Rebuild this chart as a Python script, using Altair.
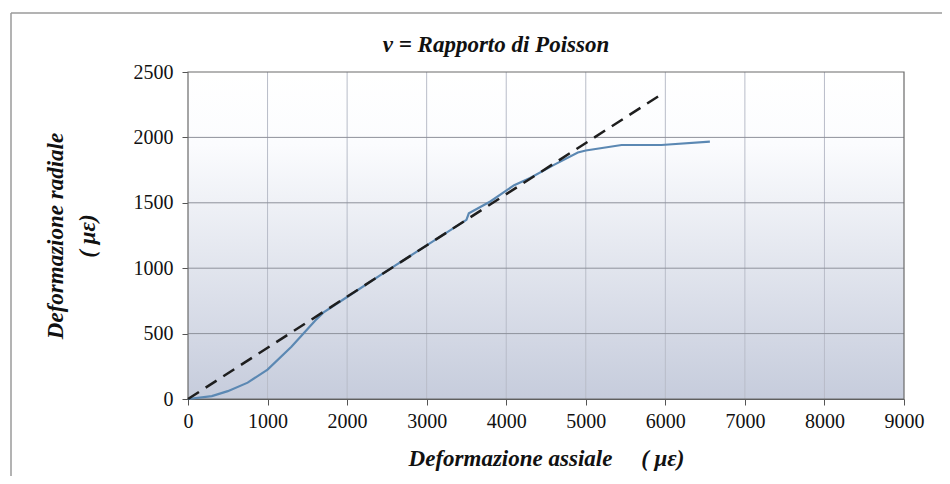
import altair as alt
import pandas as pd

# Measured curve (axial strain vs radial strain, microstrain)
exp_x = [0, 300, 500, 750, 1000, 1300, 1600, 1700, 2000, 2500, 3000, 3500, 3530,
         3800, 4100, 4300, 4600, 4900, 5000, 5450, 5950, 6560]
exp_y = [0, 22, 60, 125, 225, 400, 600, 660, 780, 980, 1175, 1370, 1420,
         1510, 1635, 1690, 1790, 1885, 1900, 1942, 1942, 1967]

# Linear fit (dashed)
fit_x = [0, 5970]
fit_y = [0, 2337]

x_ticks = [0, 1000, 2000, 3000, 4000, 5000, 6000, 7000, 8000, 9000]
y_ticks = [0, 500, 1000, 1500, 2000, 2500]

title_text = "ν = Rapporto di Poisson"
x_title = "Deformazione assiale\u00a0\u00a0\u00a0\u00a0\u00a0( με)"
y_title = ["Deformazione radiale", "( με)"]

W, H = 716, 327
FONT = "Liberation Serif"

exp_df = pd.DataFrame({"x": exp_x, "y": exp_y})
fit_df = pd.DataFrame({"x": fit_x, "y": fit_y})
one = pd.DataFrame({"a": [0]})

xscale = alt.Scale(domain=[0, 9000], nice=False)
yscale = alt.Scale(domain=[0, 2500], nice=False)

bg = alt.Chart(one).mark_rect(
    color=alt.Gradient(
        gradient="linear",
        stops=[alt.GradientStop(offset=0, color="#ffffff"),
               alt.GradientStop(offset=0.22, color="#fbfcfe"),
               alt.GradientStop(offset=1, color="#c6ccdc")],
        x1=0, x2=0, y1=0, y2=1),
).encode(x=alt.value(0), x2=alt.value(W), y=alt.value(0), y2=alt.value(H))

border = alt.Chart(one).mark_rect(
    fill=None, stroke="#6a6a6a", strokeWidth=1.2
).encode(x=alt.value(0), x2=alt.value(W), y=alt.value(0), y2=alt.value(H))

vgrid = alt.Chart(pd.DataFrame({"t": x_ticks[1:-1]})).mark_rule(
    color="#b8bcc8", strokeWidth=1
).encode(x=alt.X("t:Q", scale=xscale), y=alt.value(0), y2=alt.value(H))
hgrid = alt.Chart(pd.DataFrame({"t": y_ticks[1:-1]})).mark_rule(
    color="#8e919b", strokeWidth=1
).encode(y=alt.Y("t:Q", scale=yscale), x=alt.value(0), x2=alt.value(W))

# outer frame (top and left edges of the picture's border)
frame_top = alt.Chart(one).mark_rule(color="#9a9a9a", strokeWidth=1.5).encode(
    x=alt.value(-177), x2=alt.value(W + 60), y=alt.value(-59))
frame_left = alt.Chart(one).mark_rule(color="#9a9a9a", strokeWidth=1.5).encode(
    x=alt.value(-177), y=alt.value(-59), y2=alt.value(H + 100))

title = alt.Chart(pd.DataFrame({"t": [title_text]})).mark_text(
    font=FONT, fontSize=23, fontStyle="italic", fontWeight="bold", color="#111",
    baseline="middle", align="center"
).encode(text="t:N", x=alt.value(308), y=alt.value(-27))

axes = alt.Chart(exp_df).mark_point(opacity=0).encode(
    x=alt.X("x:Q", scale=xscale,
            axis=alt.Axis(values=x_ticks, title=x_title, format="d", grid=False,
                          labelFlush=False,
                          domainColor="#555", tickColor="#555", tickSize=6,
                          labelPadding=6, titlePadding=16)),
    y=alt.Y("y:Q", scale=yscale,
            axis=alt.Axis(values=y_ticks, title=y_title, format="d", grid=False,
                          labelFlush=False,
                          domainColor="#555", tickColor="#555", tickSize=6,
                          labelPadding=9, titlePadding=34, titleLineHeight=32)),
)

fit_line = alt.Chart(fit_df).mark_line(
    color="#1e1e1e", strokeWidth=2.5, strokeDash=[13, 8]
).encode(x=alt.X("x:Q", scale=xscale), y=alt.Y("y:Q", scale=yscale))

exp_line = alt.Chart(exp_df).mark_line(
    color="#5b88b3", strokeWidth=2.2
).encode(x=alt.X("x:Q", scale=xscale), y=alt.Y("y:Q", scale=yscale))

chart = alt.layer(bg, vgrid, hgrid, border, axes, exp_line, fit_line,
                  frame_top, frame_left, title).properties(
    width=W, height=H,
    autosize=alt.AutoSizeParams(type="none"),
    padding={"left": 180, "top": 64, "right": 38, "bottom": 77},
    background="white",
).configure_view(stroke=None).configure_axis(
    labelFont=FONT, labelFontSize=20, labelColor="#111",
    titleFont=FONT, titleFontSize=23, titleFontStyle="italic",
    titleFontWeight="bold", titleColor="#111",
)

chart.save("out.html", embed_options={"renderer": "svg", "actions": False})
